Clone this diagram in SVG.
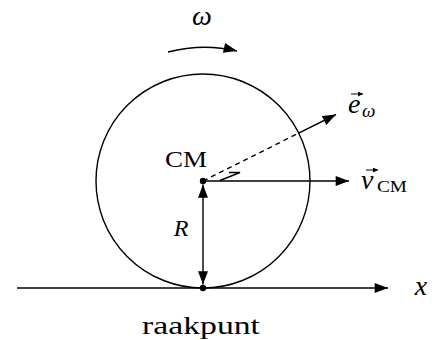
<svg xmlns="http://www.w3.org/2000/svg" width="435" height="340" viewBox="0 0 435 340">
<defs>
<style>
.ln{stroke:#000;stroke-width:1.4;fill:none}
.acc{stroke:#000;stroke-width:1;fill:none}
text{font-family:'Liberation Serif',serif;fill:#000}
.it{font-style:italic}
</style>
<marker id="ah" markerUnits="userSpaceOnUse" markerWidth="14" markerHeight="10" refX="12" refY="4.5" orient="auto-start-reverse" viewBox="0 0 12 9">
<path d="M0,0 L12,4.5 L0,9 z" fill="#000"/>
</marker>
<marker id="sh" markerUnits="userSpaceOnUse" markerWidth="5" markerHeight="5" refX="4" refY="2" orient="auto" viewBox="0 0 4 4">
<path d="M0,0 L4,2 L0,4 z" fill="#000"/>
</marker>
</defs>
<rect width="435" height="340" fill="#fff"/>
<g id="wheel">
<circle class="ln" cx="203" cy="181" r="107"/>
</g>
<g id="connectors">
<line id="x-axis" class="ln" x1="17" y1="288" x2="388" y2="288" marker-end="url(#ah)"/>
<line id="v-arrow" class="ln" x1="203" y1="181" x2="349" y2="181" marker-end="url(#ah)"/>
<line id="e-dashed" class="ln" x1="203" y1="181" x2="298.7" y2="133.1" stroke-dasharray="5,4"/>
<line id="e-arrow" class="ln" x1="298.7" y1="133.1" x2="336" y2="114.5" marker-end="url(#ah)"/>
<line id="r-arrow" class="ln" x1="203" y1="184.5" x2="203" y2="284.5" marker-start="url(#ah)" marker-end="url(#ah)"/>
<path id="omega-arrow" class="ln" d="M168 52 Q 203 43 237 51" marker-end="url(#ah)"/>
<path id="angle-mark" class="ln" d="M229 172.5 L240 172.5 L220 180.5" stroke-width="1.2"/>
</g>
<g id="cm-point">
<circle cx="203" cy="181" r="3.2" fill="#000"/>
<text font-family="Liberation Serif, serif" x="186" y="167" font-size="24" text-anchor="middle" textLength="42" lengthAdjust="spacingAndGlyphs">CM</text>
</g>
<g id="contact-point">
<circle cx="203" cy="288" r="3.2" fill="#000"/>
<text font-family="Liberation Serif, serif" x="201" y="334" font-size="25" text-anchor="middle" textLength="118" lengthAdjust="spacingAndGlyphs">raakpunt</text>
</g>
<g id="label-omega">
<text class="it" font-family="Liberation Serif, serif" x="202" y="25" font-size="28" text-anchor="middle">ω</text>
</g>
<g id="label-R">
<text class="it" font-family="Liberation Serif, serif" x="181" y="236" font-size="24" text-anchor="middle">R</text>
</g>
<g id="label-x">
<text class="it" font-family="Liberation Serif, serif" x="421" y="295" font-size="28" text-anchor="middle">x</text>
</g>
<g id="label-e">
<line class="acc" x1="351" y1="94" x2="363" y2="94" marker-end="url(#sh)"/>
<text class="it" font-family="Liberation Serif, serif" x="348" y="113" font-size="28">e</text>
<text class="it" font-family="Liberation Serif, serif" x="362" y="117" font-size="19">ω</text>
</g>
<g id="label-v">
<line class="acc" x1="366" y1="170" x2="378" y2="170" marker-end="url(#sh)"/>
<text class="it" font-family="Liberation Serif, serif" x="361" y="189" font-size="28">v</text>
<text font-family="Liberation Serif, serif" x="377" y="192" font-size="17" textLength="30" lengthAdjust="spacingAndGlyphs">CM</text>
</g>
</svg>
